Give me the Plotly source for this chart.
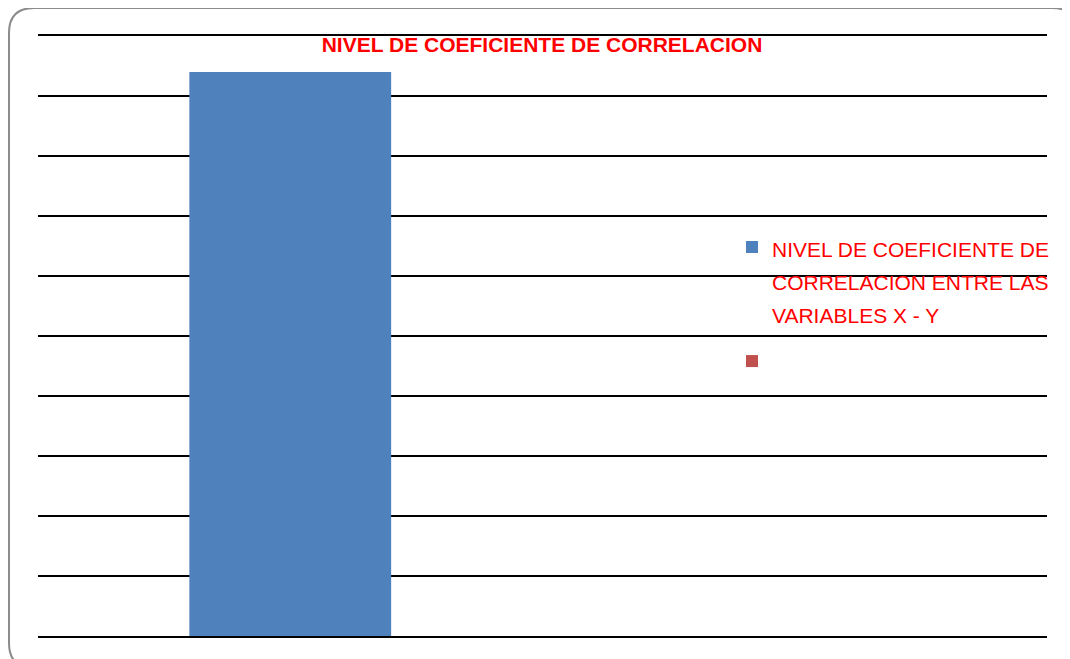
import plotly.graph_objects as go

# Data
categories = ["X - Y", " "]
series_lines = ["NIVEL DE COEFICIENTE DE", "CORRELACION ENTRE LAS", "VARIABLES X - Y"]
coef_values = [0.94, None]
second_series_values = [None, None]
title_text = "NIVEL DE COEFICIENTE DE CORRELACION"

BLUE = "#4F81BD"
RED_SERIES = "#C0504D"
TEXT_RED = "#FF0000"
FONT = "Liberation Sans, Arial, sans-serif"

series_name = "<br>".join(f"<span style='font-size:21px'>{s}</span>" for s in series_lines)

fig = go.Figure()
fig.add_trace(go.Bar(x=categories, y=coef_values, name=series_name, legendgroup="g1",
                     marker=dict(color=BLUE, line=dict(width=0)), width=0.4))
fig.add_trace(go.Bar(x=categories, y=second_series_values, name="", legendgroup="g2",
                     marker=dict(color=RED_SERIES, line=dict(width=0)), width=0.4,
                     showlegend=True))

# page has an 8px body margin; figure coordinates = page coordinates - 8
FW, FH = 1062, 651
L, R, T, B = 30, 1039, 28, 628
W, H = R - L, B - T

def px_x(x):
    return (x - L) / W

def px_y(y):
    return (B - y) / H

# rounded frame
x0, x1, y0, y1, r = 1, 1069, 0, 660, 25
rx, ry = r / W, r / H
X0, X1 = px_x(x0), px_x(x1)
Y0, Y1 = px_y(y0), px_y(y1)  # Y0 top, Y1 bottom
path = (f"M{X0 + rx},{Y0} L{X1 - rx},{Y0} Q{X1},{Y0} {X1},{Y0 - ry} "
        f"L{X1},{Y1 + ry} Q{X1},{Y1} {X1 - rx},{Y1} L{X0 + rx},{Y1} "
        f"Q{X0},{Y1} {X0},{Y1 + ry} L{X0},{Y0 - ry} Q{X0},{Y0} {X0 + rx},{Y0} Z")
fig.add_shape(type="path", path=path, xref="paper", yref="paper",
              line=dict(color="#8C8C8C", width=2), fillcolor="rgba(0,0,0,0)", layer="below")

fig.update_layout(
    width=FW, height=FH,
    margin=dict(l=L, r=FW - R, t=T, b=FH - B),
    paper_bgcolor="white", plot_bgcolor="white",
    barmode="overlay",
    title=dict(text=f"<b>{title_text}</b>", x=534 / FW, xanchor="center",
               y=1 - 37 / FH, yanchor="middle",
               font=dict(family=FONT, size=21, color=TEXT_RED)),
    xaxis=dict(showticklabels=False, showgrid=False, zeroline=False,
               showline=True, mirror=True, linecolor="black", linewidth=1.6,
               layer="below traces", ticks=""),
    yaxis=dict(range=[0, 1], dtick=0.1, showticklabels=False, ticks="",
               showgrid=True, gridcolor="black", gridwidth=1.6,
               zeroline=False, showline=False),
    legend=dict(x=px_x(724), y=px_y(216), xanchor="left", yanchor="top",
                font=dict(family=FONT, size=25.4, color=TEXT_RED),
                bgcolor="rgba(0,0,0,0)", borderwidth=0, traceorder="grouped",
                tracegroupgap=12, valign="top"),
    showlegend=True,
)

fig.write_html("out.html")
